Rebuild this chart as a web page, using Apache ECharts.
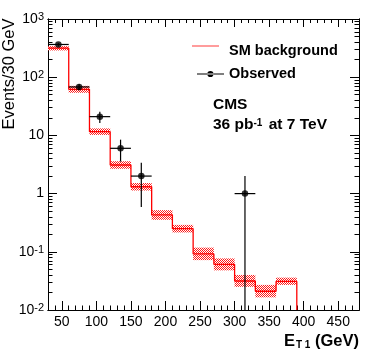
<!DOCTYPE html>
<html><head><meta charset="utf-8">
<script src="https://cdn.jsdelivr.net/npm/echarts@6/dist/echarts.min.js"></script>
<style>html,body{margin:0;padding:0;background:#fff}#c{width:374px;height:357px}</style>
</head><body><div id="c"></div>
<script>
// ---- data ----
const binEdges = [30, 60, 90, 120, 150, 180, 210, 240, 270, 300, 330, 360, 390];
const bkg      = [315, 62, 11.6, 3.1, 1.31, 0.43, 0.25, 0.092, 0.061, 0.0315, 0.021, 0.031];
const bkgUp    = [342, 71, 13.2, 3.6, 1.52, 0.52, 0.29, 0.118, 0.077, 0.040, 0.027, 0.036];
const bkgDown  = [288, 54, 10.2, 2.67, 1.13, 0.355, 0.215, 0.072, 0.048, 0.025, 0.0165, 0.027];
const obsX     = [45, 75, 105, 135, 165, 315];
const obsY     = [365, 68, 21, 6, 2, 1];
const obsUp    = [384, 76.4, 25.6, 8.45, 3.4, 2.0];
const obsDown  = [346, 59.8, 16.4, 3.55, 0.59, 0];
const obsXErr  = [15, 15, 15, 15, 15, 15];
const xTickLabels = [50, 100, 150, 200, 250, 300, 350, 400, 450];
const yTickLabels = [0.01, 0.1, 1, 10, 100, 1000];
const xRange = [30, 480];
const yRange = [0.01, 1000];

// minor tick positions
const xMinor = [];
for (let v = 40; v <= 470; v += 10) xMinor.push(v);
const yMinor = [];
[0.01, 0.1, 1, 10, 100].forEach(d => { for (let k = 2; k <= 9; k++) yMinor.push(+(d * k).toPrecision(3)); });

const FONT = 'Liberation Sans';

// hatched fill pattern
const pc = document.createElement('canvas');
pc.width = 2; pc.height = 2;
const pctx = pc.getContext('2d');
pctx.fillStyle = '#ffffff'; pctx.fillRect(0, 0, 2, 2);
pctx.fillStyle = '#ff1a1a'; pctx.fillRect(0, 0, 1, 1); pctx.fillRect(1, 1, 1, 1);
const pattern = { image: pc, repeat: 'repeat' };

function xAx(pos, ticks, len, showLabel) {
  return {
    type: 'value', position: pos, min: xRange[0], max: xRange[1],
    axisLine: { show: true, onZero: false, lineStyle: { color: '#000', width: 1 } },
    axisTick: { show: true, inside: true, length: len, customValues: ticks, lineStyle: { color: '#000', width: 1 } },
    axisLabel: { show: showLabel, customValues: xTickLabels, margin: 5, color: '#000', fontSize: 14, fontFamily: FONT },
    splitLine: { show: false }
  };
}
function yAx(pos, ticks, len, showLabel) {
  return {
    type: 'log', logBase: 10, position: pos, min: yRange[0], max: yRange[1],
    axisLine: { show: true, onZero: false, lineStyle: { color: '#000', width: 1 } },
    axisTick: { show: true, inside: true, length: len, customValues: ticks, lineStyle: { color: '#000', width: 1 } },
    axisLabel: {
      show: showLabel, customValues: yTickLabels, margin: 4, color: '#000',
      formatter: function (v) {
        const e = Math.round(Math.log10(v));
        if (e === 0) return '{b|1}';
        if (e === 1) return '{b|10}';
        return '{b|10}{s|' + e + '}';
      },
      rich: {
        b: { fontSize: 14, fontFamily: FONT, color: '#000', lineHeight: 16 },
        s: { fontSize: 11, fontFamily: FONT, color: '#000', padding: [0, 0, 4, 0] }
      }
    },
    splitLine: { show: false }
  };
}

const bandData = bkg.map((v, i) => [binEdges[i], binEdges[i + 1], bkgDown[i], bkgUp[i]]);
const lineData = bkg.map((v, i) => [binEdges[i], v]);
lineData.push([binEdges[binEdges.length - 1], bkg[bkg.length - 1]]);
lineData.push([binEdges[binEdges.length - 1], yRange[0]]);
const errData = obsX.map((x, i) => [x, obsY[i], obsDown[i], obsUp[i], obsXErr[i]]);
const ptData = obsX.map((x, i) => [x, obsY[i]]);

const iconObs = 'path://M0,2.6 L27,2.6 L27,3.6 L0,3.6 Z M10.3,3.1 A3.1,3.1 0 1,0 16.5,3.1 A3.1,3.1 0 1,0 10.3,3.1 Z';
const legendText = { fontSize: 14.5, fontWeight: 'bold', fontFamily: FONT, color: '#000', lineHeight: 16 };

const chart = echarts.init(document.getElementById('c'), null, { renderer: 'canvas' });
chart.setOption({
  animation: false,
  backgroundColor: '#fff',
  grid: { left: 48, right: 15, top: 19, bottom: 47, containLabel: false, outerBoundsMode: 'none' },
  xAxis: [
    xAx('bottom', xTickLabels, 9, true),
    xAx('bottom', xMinor, 4.5, false),
    xAx('top', xTickLabels, 8, false),
    xAx('top', xMinor, 4, false)
  ],
  yAxis: [
    yAx('left', yTickLabels, 9, true),
    yAx('left', yMinor, 4.5, false),
    yAx('right', yTickLabels, 9, false),
    yAx('right', yMinor, 4.5, false)
  ],
  legend: [
    {
      left: 192, top: 38, orient: 'vertical', itemWidth: 27, itemHeight: 1.3,
      selectedMode: false, textStyle: legendText,
      data: [{ name: 'SM background', icon: 'none' }]
    },
    {
      left: 192, top: 61, orient: 'vertical', itemWidth: 27, itemHeight: 6.2,
      selectedMode: false, textStyle: legendText,
      data: [{ name: 'Observed', icon: iconObs, itemStyle: { color: '#000', borderWidth: 0 } }]
    }
  ],
  title: [
    {
      left: 213, top: 95, padding: 0,
      text: '{a|CMS}\n{a|36 pb}{s|-1}{a| at 7 TeV}',
      textStyle: {
        rich: {
          a: { fontSize: 15.5, fontWeight: 'bold', fontFamily: FONT, color: '#000', lineHeight: 20 },
          s: { fontSize: 10, fontWeight: 'bold', fontFamily: FONT, color: '#000', padding: [0, 2, 4, 0] }
        }
      }
    },
    {
      right: 15, top: 331, padding: 0,
      text: '{e|E}{t|T 1}{e| (GeV)}',
      textStyle: {
        rich: {
          e: { fontSize: 16.5, fontFamily: FONT, color: '#000', lineHeight: 20 },
          t: { fontSize: 10, fontFamily: FONT, color: '#000', padding: [9, 0, 0, 1] }
        }
      }
    }
  ],
  graphic: [
    {
      type: 'text', x: 9, y: 74, rotation: Math.PI / 2,
      style: { text: 'Events/30 GeV', fontSize: 16.5, fontFamily: FONT, fill: '#000', align: 'center', verticalAlign: 'middle' }
    },
    {
      // legend key for the SM background line
      type: 'line', shape: { x1: 192, y1: 46, x2: 219, y2: 46 },
      style: { stroke: '#ff5a5a', lineWidth: 1.2 }, z: 100
    }
  ],
  series: [
    {
      name: 'SM band', type: 'custom', xAxisIndex: 0, yAxisIndex: 0, clip: true,
      data: bandData, encode: { x: [0, 1], y: [2, 3] },
      itemStyle: { color: '#ff5a5a' },
      renderItem: function (params, api) {
        const p1 = api.coord([api.value(0), api.value(3)]);
        const p2 = api.coord([api.value(1), api.value(2)]);
        return { type: 'rect', shape: { x: p1[0], y: p1[1], width: p2[0] - p1[0], height: p2[1] - p1[1] },
                 style: { fill: pattern, stroke: null } };
      },
      z: 2
    },
    {
      name: 'SM background', type: 'line', xAxisIndex: 0, yAxisIndex: 0, step: 'end',
      data: lineData, symbol: 'none', showSymbol: false, clip: true,
      lineStyle: { color: '#ff0000', width: 1.3 }, itemStyle: { color: '#ff0000' }, z: 3
    },
    {
      name: 'Observed', type: 'custom', xAxisIndex: 0, yAxisIndex: 0, clip: true,
      data: errData, encode: { x: 0, y: 1 },
      renderItem: function (params, api) {
        const x = api.value(0), y = api.value(1), lo = api.value(2), hi = api.value(3), xe = api.value(4);
        const c = api.coord([x, y]);
        const top = api.coord([x, hi]);
        const bottom = lo > 0 ? api.coord([x, lo])[1] : params.coordSys.y + params.coordSys.height;
        const l = api.coord([x - xe, y]), r = api.coord([x + xe, y]);
        return { type: 'group', children: [
          { type: 'line', shape: { x1: c[0], y1: top[1], x2: c[0], y2: bottom }, style: { stroke: '#000', lineWidth: 1.2 } },
          { type: 'line', shape: { x1: l[0], y1: c[1], x2: r[0], y2: c[1] }, style: { stroke: '#000', lineWidth: 1.2 } }
        ] };
      },
      itemStyle: { color: '#000' }, z: 4
    },
    {
      name: 'Observed', type: 'scatter', xAxisIndex: 0, yAxisIndex: 0,
      data: ptData, symbol: 'circle', symbolSize: 6.5, itemStyle: { color: '#000' }, z: 5
    }
  ]
});
</script></body></html>
